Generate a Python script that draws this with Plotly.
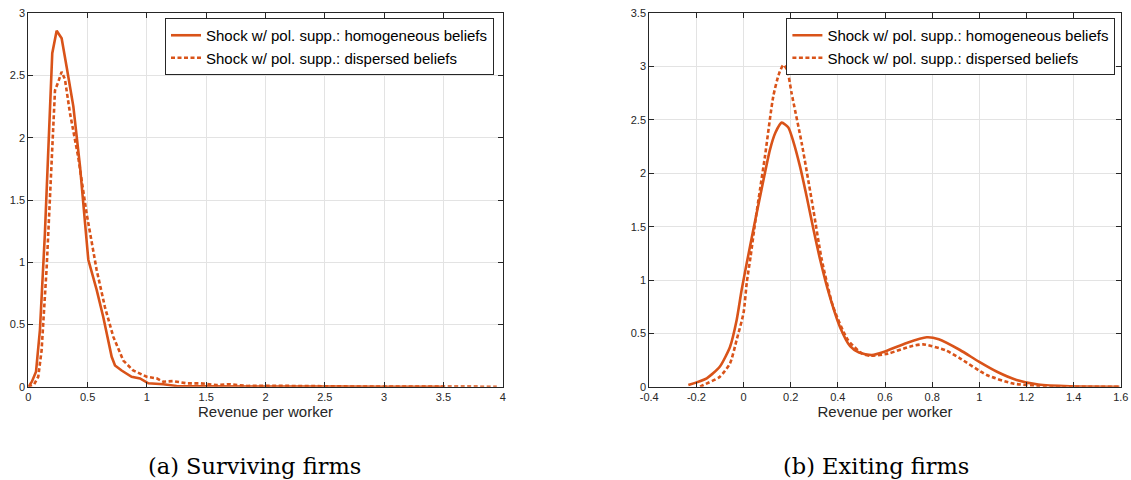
import plotly.graph_objects as go

# ---------------- Data: (a) Surviving firms ----------------
surv_homog_x = [0.0, 0.03, 0.065, 0.098, 0.14, 0.177, 0.202, 0.239, 0.281, 0.323, 0.38, 0.436,
                0.506, 0.576, 0.632, 0.703, 0.731, 0.787, 0.871, 0.942, 1.012, 1.138, 1.25,
                1.4, 1.55, 1.7, 1.85, 2.0, 2.3, 2.6, 3.0, 3.5]
surv_homog_y = [0.0, 0.04, 0.12, 0.455, 1.23, 2.04, 2.68, 2.86, 2.80, 2.57, 2.25, 1.77,
                1.02, 0.78, 0.56, 0.24, 0.17, 0.13, 0.08, 0.067, 0.027, 0.02, 0.006,
                0.003, 0.002, 0.006, 0.002, 0.003, 0.001, 0.001, 0.0, 0.0]

surv_disp_x = [0.0, 0.05, 0.084, 0.112, 0.155, 0.197, 0.225, 0.253, 0.281, 0.309, 0.351, 0.42,
               0.492, 0.576, 0.646, 0.717, 0.801, 0.885, 0.998, 1.082, 1.138, 1.22, 1.335,
               1.45, 1.59, 1.70, 1.85, 2.0, 2.3, 2.7, 3.2, 3.6, 3.95]
surv_disp_y = [0.0, 0.02, 0.08, 0.29, 0.96, 1.77, 2.38, 2.45, 2.53, 2.47, 2.20, 1.85,
               1.39, 0.94, 0.64, 0.40, 0.21, 0.13, 0.08, 0.067, 0.04, 0.045, 0.027,
               0.027, 0.013, 0.02, 0.006, 0.008, 0.004, 0.002, 0.001, 0.0, 0.0]

# ---------------- Data: (b) Exiting firms ----------------
exit_homog_x = [-0.234, -0.156, -0.1, -0.057, -0.029, -0.008, 0.0135, 0.0415, 0.07, 0.112, 0.135,
                0.162, 0.19, 0.211, 0.24, 0.268, 0.296, 0.324, 0.364, 0.409, 0.452, 0.49, 0.544,
                0.6, 0.692, 0.777, 0.828, 0.918, 0.998, 1.075, 1.158, 1.25, 1.384, 1.594]
exit_homog_y = [0.016, 0.079, 0.19, 0.375, 0.625, 0.906, 1.156, 1.47, 1.78, 2.22, 2.38,
                2.475, 2.43, 2.3, 2.06, 1.78, 1.48, 1.2, 0.86, 0.56, 0.38, 0.32, 0.297,
                0.33, 0.41, 0.463, 0.445, 0.344, 0.235, 0.14, 0.063, 0.02, 0.004, 0.0]

exit_disp_x = [-0.184, -0.17, -0.1, -0.057, -0.029, 0.0, 0.014, 0.03, 0.05, 0.07, 0.091, 0.126,
               0.15, 0.169, 0.185, 0.204, 0.247, 0.296, 0.331, 0.38, 0.442, 0.503, 0.536,
               0.612, 0.704, 0.762, 0.859, 0.918, 1.031, 1.143, 1.25, 1.35, 1.6]
exit_disp_y = [0.0, 0.016, 0.094, 0.22, 0.44, 0.69, 0.98, 1.22, 1.55, 1.85, 2.16, 2.72,
               2.93, 3.015, 2.97, 2.75, 2.28, 1.66, 1.2, 0.75, 0.44, 0.31, 0.29,
               0.31, 0.375, 0.397, 0.34, 0.266, 0.11, 0.03, 0.008, 0.0, 0.0]

series_names = ["Shock w/ pol. supp.: homogeneous beliefs",
                "Shock w/ pol. supp.: dispersed beliefs"]
captions = ["(a) Surviving firms", "(b) Exiting firms"]
x_title = "Revenue per worker"

left_xticks = [0, 0.5, 1, 1.5, 2, 2.5, 3, 3.5, 4]
left_yticks = [0, 0.5, 1, 1.5, 2, 2.5, 3]
right_xticks = [-0.4, -0.2, 0, 0.2, 0.4, 0.6, 0.8, 1, 1.2, 1.4, 1.6]
right_xtext = ["-0.4", "-0.2", "0", "0.2", "0.4", "0.6", "0.8", "1", "1.2", "1.4", "1.6"]
right_yticks = [0, 0.5, 1, 1.5, 2, 2.5, 3, 3.5]

# ---------------- Styling ----------------
W, H = 1131, 480
OFF = 0  # body margin removed via post_script
COLOR = "#D95319"
AX = "#262626"
GRID = "#E3E3E3"
FONT = "Helvetica, Liberation Sans, Arial, sans-serif"
SERIF = "DejaVu Serif, Liberation Serif, serif"
DOT = "4px,2.5px"

fig = go.Figure()

fig.add_trace(go.Scatter(x=surv_homog_x, y=surv_homog_y, mode="lines", name=series_names[0],
                         line=dict(color=COLOR, width=2.6), xaxis="x", yaxis="y", legend="legend"))
fig.add_trace(go.Scatter(x=surv_disp_x, y=surv_disp_y, mode="lines", name=series_names[1],
                         line=dict(color=COLOR, width=2.6, dash=DOT), xaxis="x", yaxis="y",
                         legend="legend"))
fig.add_trace(go.Scatter(x=exit_homog_x, y=exit_homog_y, mode="lines", name=series_names[0],
                         line=dict(color=COLOR, width=2.6, shape="spline", smoothing=0.6),
                         xaxis="x2", yaxis="y2", legend="legend2"))
fig.add_trace(go.Scatter(x=exit_disp_x, y=exit_disp_y, mode="lines", name=series_names[1],
                         line=dict(color=COLOR, width=2.6, dash=DOT, shape="spline", smoothing=0.6),
                         xaxis="x2", yaxis="y2", legend="legend2"))

def px_x(p):
    return (p - OFF) / W

def px_y(p):
    return 1 - (p - OFF) / H

common_axis = dict(showline=True, linecolor=AX, linewidth=1, mirror="ticks", ticks="inside",
                   ticklen=5, tickcolor=AX, showgrid=True, gridcolor=GRID, gridwidth=1,
                   zeroline=False, automargin=False, ticklabeloverflow="allow",
                   tickfont=dict(family=FONT, size=11, color=AX))

ydom = [px_y(386.7), px_y(13.3)]
title_font = dict(family=FONT, size=15, color=AX)
legend_common = dict(xanchor="right", yanchor="top", bgcolor="white", bordercolor=AX,
                     borderwidth=1, font=dict(family=FONT, size=15, color="black"),
                     tracegroupgap=0)

fig.update_layout(
    template="none",
    width=W, height=H,
    margin=dict(l=0, r=0, t=0, b=0, autoexpand=False),
    paper_bgcolor="white", plot_bgcolor="white",
    font=dict(family=FONT, color=AX),
    xaxis=dict(domain=[px_x(28.3), px_x(502.7)], range=[0, 4], tickvals=left_xticks,
               anchor="y", title=dict(text=x_title, font=title_font, standoff=3), **common_axis),
    yaxis=dict(domain=ydom, range=[0, 3], tickvals=left_yticks, anchor="x", **common_axis),
    xaxis2=dict(domain=[px_x(649.2), px_x(1120.8)], range=[-0.4, 1.6], tickvals=right_xticks,
                ticktext=right_xtext, anchor="y2",
                title=dict(text=x_title, font=title_font, standoff=3), **common_axis),
    yaxis2=dict(domain=ydom, range=[0, 3.5], tickvals=right_yticks, anchor="x2", **common_axis),
    legend=dict(x=px_x(494), y=px_y(18), **legend_common),
    legend2=dict(x=px_x(1115.4), y=px_y(18), **legend_common),
    showlegend=True,
)

for cap, cx in zip(captions, [254, 876]):
    fig.add_annotation(text=cap, x=px_x(cx), y=px_y(466), xref="paper", yref="paper",
                       xanchor="center", yanchor="middle", showarrow=False,
                       font=dict(family=SERIF, size=22.5, color="black"))

fig.write_html("out.html", config={"displayModeBar": False},
               post_script="document.body.style.margin='0';document.body.style.overflow='hidden';")
